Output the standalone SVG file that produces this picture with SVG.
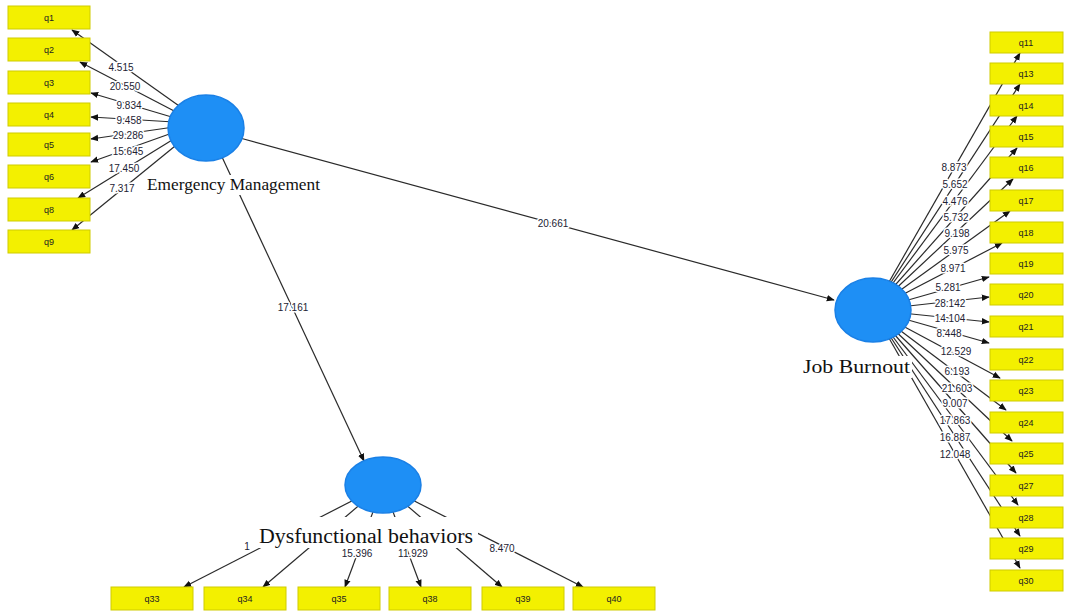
<svg xmlns="http://www.w3.org/2000/svg" width="1065" height="613" viewBox="0 0 1065 613">
<defs>
<style>
.box{fill:#f3f000;stroke:#cfcc00;stroke-width:1}
.bt{font-family:"Liberation Sans",Arial,sans-serif;font-size:9px;fill:#222;text-anchor:middle;dominant-baseline:central}
.lv{fill:#1e8ff5;stroke:#1a80e6;stroke-width:1.5}
.ttl{font-family:"Liberation Serif","Times New Roman",serif;fill:#111}
.ln{stroke:#2a2a2a;stroke-width:1.2;fill:none;marker-end:url(#ah)}
.lb{font-family:"Liberation Sans",Arial,sans-serif;font-size:10px;fill:#222233;text-anchor:middle;dominant-baseline:central;stroke:#fff;stroke-width:3;paint-order:stroke;stroke-linejoin:round}
</style>
<marker id="ah" viewBox="0 0 10 10" refX="9" refY="5" markerWidth="8" markerHeight="8" markerUnits="userSpaceOnUse" orient="auto"><path d="M0,1 L10,5 L0,9 z" fill="#111"/></marker>
</defs>
<rect width="1065" height="613" fill="#fff"/>
<g id="connectors">
<line class="ln" x1="240" y1="138" x2="834" y2="300"/>
<text class="lb" x="553" y="223">20.661</text>
<line class="ln" x1="222" y1="157" x2="364" y2="461"/>
<text class="lb" x="293" y="307">17.161</text>
<line class="ln" x1="182" y1="108" x2="72" y2="30"/>
<line class="ln" x1="178" y1="113" x2="80" y2="62"/>
<line class="ln" x1="175" y1="118" x2="91" y2="93"/>
<line class="ln" x1="174" y1="122" x2="91" y2="117"/>
<line class="ln" x1="174" y1="127" x2="91" y2="139"/>
<line class="ln" x1="175" y1="132" x2="91" y2="162"/>
<line class="ln" x1="177" y1="137" x2="78" y2="198"/>
<line class="ln" x1="180" y1="142" x2="72" y2="230"/>
<text class="lb" x="121" y="67">4.515</text>
<text class="lb" x="125" y="86">20.550</text>
<text class="lb" x="129" y="105">9.834</text>
<text class="lb" x="129" y="120">9.458</text>
<text class="lb" x="128" y="135">29.286</text>
<text class="lb" x="128" y="151">15.645</text>
<text class="lb" x="124" y="168">17.450</text>
<text class="lb" x="122" y="188">7.317</text>
<line class="ln" x1="873" y1="310" x2="1020" y2="53"/>
<line class="ln" x1="873" y1="310" x2="1020" y2="84"/>
<line class="ln" x1="873" y1="310" x2="1017" y2="116"/>
<line class="ln" x1="873" y1="310" x2="1017" y2="148"/>
<line class="ln" x1="873" y1="310" x2="1013" y2="179"/>
<line class="ln" x1="873" y1="310" x2="1010" y2="211"/>
<line class="ln" x1="873" y1="310" x2="1002" y2="243"/>
<line class="ln" x1="873" y1="310" x2="989" y2="277"/>
<line class="ln" x1="873" y1="310" x2="989" y2="297"/>
<line class="ln" x1="873" y1="310" x2="989" y2="322"/>
<line class="ln" x1="873" y1="310" x2="989" y2="343"/>
<line class="ln" x1="873" y1="310" x2="1000" y2="378"/>
<line class="ln" x1="873" y1="310" x2="1006" y2="410"/>
<line class="ln" x1="873" y1="310" x2="1012" y2="441"/>
<line class="ln" x1="873" y1="310" x2="1016" y2="473"/>
<line class="ln" x1="873" y1="310" x2="1018" y2="505"/>
<line class="ln" x1="873" y1="310" x2="1020" y2="536"/>
<line class="ln" x1="873" y1="310" x2="1020" y2="568"/>
<text class="lb" x="954" y="167">8.873</text>
<text class="lb" x="955" y="184">5.652</text>
<text class="lb" x="955" y="201">4.476</text>
<text class="lb" x="956" y="217">5.732</text>
<text class="lb" x="957" y="233">9.198</text>
<text class="lb" x="956" y="250">5.975</text>
<text class="lb" x="953" y="268">8.971</text>
<text class="lb" x="948" y="287">5.281</text>
<text class="lb" x="950" y="303">28.142</text>
<text class="lb" x="950" y="318">14.104</text>
<text class="lb" x="949" y="333">8.448</text>
<text class="lb" x="956" y="351">12.529</text>
<text class="lb" x="957" y="371">6.193</text>
<text class="lb" x="957" y="388">21.603</text>
<text class="lb" x="955" y="403">9.007</text>
<text class="lb" x="955" y="420">17.863</text>
<text class="lb" x="955" y="437">16.887</text>
<text class="lb" x="955" y="454">12.048</text>
<line class="ln" x1="383" y1="485" x2="184" y2="587"/>
<line class="ln" x1="383" y1="485" x2="263" y2="587"/>
<line class="ln" x1="383" y1="485" x2="345" y2="587"/>
<line class="ln" x1="383" y1="485" x2="421" y2="587"/>
<line class="ln" x1="383" y1="485" x2="502" y2="587"/>
<line class="ln" x1="383" y1="485" x2="583" y2="587"/>
</g>
<g id="em">
<ellipse class="lv" cx="206" cy="128" rx="38" ry="33"/>
</g>
<g id="jb">
<ellipse class="lv" cx="873" cy="310" rx="38" ry="32"/>
</g>
<g id="db">
<ellipse class="lv" cx="383" cy="485" rx="38" ry="28"/>
</g>
<g id="titles">
<rect x="146" y="175" width="177" height="20" fill="#fff"/>
<rect x="800" y="356" width="112" height="22" fill="#fff"/>
<rect x="256" y="517" width="222" height="31" fill="#fff"/>
<text class="ttl" x="147" y="190" font-size="17" textLength="173" lengthAdjust="spacingAndGlyphs">Emergency Management</text>
<text class="ttl" x="803" y="373" font-size="19" textLength="107" lengthAdjust="spacingAndGlyphs">Job Burnout</text>
<text class="ttl" x="259" y="543" font-size="20" textLength="214" lengthAdjust="spacingAndGlyphs">Dysfunctional behaviors</text>
<text class="lb" x="247" y="546">1</text>
<text class="lb" x="357" y="553">15.396</text>
<text class="lb" x="413" y="553">11.929</text>
<text class="lb" x="502" y="548">8.470</text>
</g>
<g id="q1"><rect class="box" x="8" y="6" width="82" height="23"/><text class="bt" x="49" y="17.5">q1</text></g>
<g id="q2"><rect class="box" x="8" y="38" width="82" height="23"/><text class="bt" x="49" y="49.5">q2</text></g>
<g id="q3"><rect class="box" x="8" y="71" width="82" height="23"/><text class="bt" x="49" y="82.5">q3</text></g>
<g id="q4"><rect class="box" x="8" y="103" width="82" height="23"/><text class="bt" x="49" y="114.5">q4</text></g>
<g id="q5"><rect class="box" x="8" y="133" width="82" height="23"/><text class="bt" x="49" y="144.5">q5</text></g>
<g id="q6"><rect class="box" x="8" y="165" width="82" height="23"/><text class="bt" x="49" y="176.5">q6</text></g>
<g id="q8"><rect class="box" x="8" y="198" width="82" height="23"/><text class="bt" x="49" y="209.5">q8</text></g>
<g id="q9"><rect class="box" x="8" y="230" width="82" height="23"/><text class="bt" x="49" y="241.5">q9</text></g>
<g id="q11"><rect class="box" x="990" y="32" width="73" height="21"/><text class="bt" x="1026" y="42.5">q11</text></g>
<g id="q13"><rect class="box" x="990" y="63" width="73" height="21"/><text class="bt" x="1026" y="73.5">q13</text></g>
<g id="q14"><rect class="box" x="990" y="95" width="73" height="21"/><text class="bt" x="1026" y="105.5">q14</text></g>
<g id="q15"><rect class="box" x="990" y="126" width="73" height="21"/><text class="bt" x="1026" y="136.5">q15</text></g>
<g id="q16"><rect class="box" x="990" y="157" width="73" height="21"/><text class="bt" x="1026" y="167.5">q16</text></g>
<g id="q17"><rect class="box" x="990" y="190" width="73" height="21"/><text class="bt" x="1026" y="200.5">q17</text></g>
<g id="q18"><rect class="box" x="990" y="222" width="73" height="21"/><text class="bt" x="1026" y="232.5">q18</text></g>
<g id="q19"><rect class="box" x="990" y="253" width="73" height="21"/><text class="bt" x="1026" y="263.5">q19</text></g>
<g id="q20"><rect class="box" x="990" y="284" width="73" height="21"/><text class="bt" x="1026" y="294.5">q20</text></g>
<g id="q21"><rect class="box" x="990" y="316" width="73" height="21"/><text class="bt" x="1026" y="326.5">q21</text></g>
<g id="q22"><rect class="box" x="990" y="349" width="73" height="21"/><text class="bt" x="1026" y="359.5">q22</text></g>
<g id="q23"><rect class="box" x="990" y="380" width="73" height="21"/><text class="bt" x="1026" y="390.5">q23</text></g>
<g id="q24"><rect class="box" x="990" y="412" width="73" height="21"/><text class="bt" x="1026" y="422.5">q24</text></g>
<g id="q25"><rect class="box" x="990" y="443" width="73" height="21"/><text class="bt" x="1026" y="453.5">q25</text></g>
<g id="q27"><rect class="box" x="990" y="475" width="73" height="21"/><text class="bt" x="1026" y="485.5">q27</text></g>
<g id="q28"><rect class="box" x="990" y="507" width="73" height="21"/><text class="bt" x="1026" y="517.5">q28</text></g>
<g id="q29"><rect class="box" x="990" y="538" width="73" height="21"/><text class="bt" x="1026" y="548.5">q29</text></g>
<g id="q30"><rect class="box" x="990" y="570" width="73" height="21"/><text class="bt" x="1026" y="580.5">q30</text></g>
<g id="q33"><rect class="box" x="111" y="587" width="82" height="23"/><text class="bt" x="152" y="598.5">q33</text></g>
<g id="q34"><rect class="box" x="204" y="587" width="82" height="23"/><text class="bt" x="245" y="598.5">q34</text></g>
<g id="q35"><rect class="box" x="298" y="587" width="82" height="23"/><text class="bt" x="339" y="598.5">q35</text></g>
<g id="q38"><rect class="box" x="389" y="587" width="82" height="23"/><text class="bt" x="430" y="598.5">q38</text></g>
<g id="q39"><rect class="box" x="482" y="587" width="82" height="23"/><text class="bt" x="523" y="598.5">q39</text></g>
<g id="q40"><rect class="box" x="573" y="587" width="82" height="23"/><text class="bt" x="614" y="598.5">q40</text></g>
</svg>
